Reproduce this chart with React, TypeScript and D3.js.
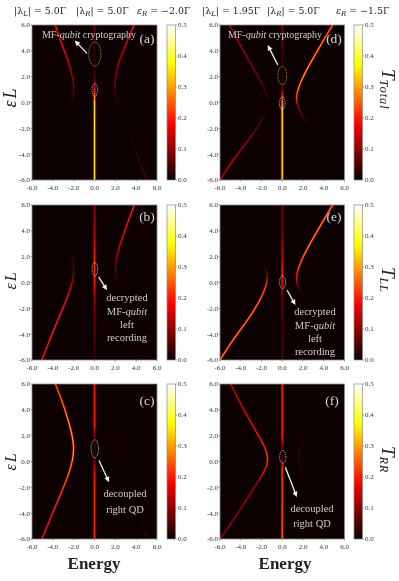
import { useEffect } from 'react';
import * as d3 from 'd3';

type Pt = [number, number, number]; // energy, epsilon_L, transmittance

const energyTicks = [-6, -4, -2, 0, 2, 4, 6];
const epsTicks = [-6, -4, -2, 0, 2, 4, 6];
const barTicks = [0, 0.1, 0.2, 0.3, 0.4, 0.5];

// panel (a)
const aLeft: Pt[] = [[-3.85, 6.2, 0.2], [-3.2, 4.6, 0.2], [-2.55, 3.3, 0.17], [-2.1, 2, 0.12], [-1.95, 1.1, 0.08], [-2.1, 0.2, 0.03], [-2.2, -0.3, 0]];
const aRight: Pt[] = [[3.9, 6.2, 0.22], [2.9, 4.3, 0.17], [2.25, 3, 0.13], [1.95, 1.75, 0.1], [1.95, 0.7, 0.05], [2.15, -0.05, 0.02], [2.3, -0.5, 0]];
const aFaint: Pt[] = [[5.1, -6.2, 0.07], [4.3, -4.5, 0.04], [3.7, -3.2, 0.02], [3.3, -2.3, 0]];
const aCenter: Pt[] = [[0, 6, 0.08], [0, 5, 0.05], [0, 4, 0.03], [0, 3, 0.03], [0, 2, 0.05], [0, 1.5, 0.1], [0, 1, 0.2], [0, 0.5, 0.25], [0, 0, 0.35], [0, -2, 0.36], [0, -6, 0.36]];
// panel (b)
const bLeft: Pt[] = [[-5.15, -6.2, 0.2], [-3.8, -3.4, 0.22], [-2.55, -1.1, 0.2], [-2, 0.3, 0.12], [-2, 1.2, 0.06], [-2.2, 2.2, 0.02], [-2.35, 2.8, 0]];
const bRight: Pt[] = [[3.9, 6.2, 0.22], [2.9, 4, 0.2], [2.25, 2.5, 0.15], [1.95, 1.2, 0.08], [2.1, 0.2, 0.03], [2.3, -0.5, 0]];
const bFaint: Pt[] = [[5.1, -6.2, 0.02], [4.3, -4.5, 0.01], [3.8, -3.3, 0]];
const bCenter: Pt[] = [[0, 6, 0.1], [0, 4, 0.12], [0, 2, 0.2], [0, 1, 0.22], [0, 0, 0.2], [0, -1, 0.12], [0, -2, 0.08], [0, -4, 0.06], [0, -6, 0.04]];
// panel (c)
const cLeft: Pt[] = [[-3.85, 6.2, 0.27], [-3, 4.45, 0.3], [-2.4, 2.9, 0.33], [-1.95, 1.35, 0.35], [-2.05, 0.1, 0.33], [-2.7, -1.5, 0.27], [-3.8, -3.55, 0.22], [-5.15, -6.2, 0.2]];
const cCenter: Pt[] = [[0, 6, 0.2], [0, 2.8, 0.2], [0, 2.2, 0.1], [0, 1.6, 0.04], [0, 1, 0.02], [0, 0.5, 0.03], [0, 0, 0.08], [0, -0.5, 0.15], [0, -1, 0.2], [0, -6, 0.21]];
const cFaint: Pt[] = [[5.1, -6.2, 0.03], [4.3, -4.5, 0.015], [3.8, -3.3, 0]];
const cFaint2: Pt[] = [[2.2, 2.4, 0], [2.05, 1.1, 0.015], [2.2, 0, 0]];
// panel (d)
const dLeftUp: Pt[] = [[-5.2, 6.2, 0.13], [-3.8, 4.05, 0.12], [-2.5, 2.25, 0.1], [-1.7, 1.1, 0.06], [-1.4, 0.3, 0.03], [-1.45, -0.1, 0]];
const dLeftLow: Pt[] = [[-6.15, -6.2, 0.16], [-4.8, -4.45, 0.16], [-3.2, -2.9, 0.12], [-2.05, -1.5, 0.06], [-1.55, -0.7, 0.02], [-1.4, -0.3, 0]];
const dRight: Pt[] = [[5, 6.2, 0.3], [3.6, 4.3, 0.33], [2.3, 2.5, 0.35], [1.55, 1.2, 0.33], [1.3, 0.3, 0.25], [1.5, -0.3, 0.12], [2, -1.2, 0.05], [2.5, -1.75, 0.01], [2.8, -2.1, 0]];
const dCenter: Pt[] = [[0, 6, 0.1], [0, 4, 0.05], [0, 2.5, 0.02], [0, 1.5, 0.03], [0, 1, 0.08], [0, 0.5, 0.2], [0, 0, 0.3], [0, -0.5, 0.36], [0, -6, 0.36]];
// panel (e)
const eLeft: Pt[] = [[-6.15, -6.2, 0.33], [-4.8, -4.45, 0.33], [-3.2, -2.8, 0.33], [-2.05, -1.25, 0.3], [-1.5, -0.2, 0.25], [-1.4, 0.55, 0.1], [-1.7, 1.3, 0.03], [-2, 1.9, 0]];
const eRight: Pt[] = [[5, 6.2, 0.35], [3.6, 4.3, 0.33], [2.3, 2.5, 0.32], [1.55, 1.2, 0.27], [1.3, 0.3, 0.2], [1.55, -0.5, 0.06], [2, -1.1, 0.01], [2.2, -1.4, 0]];
const eCenter: Pt[] = [[0, 6, 0.08], [0, 4, 0.08], [0, 2, 0.14], [0, 1, 0.2], [0, 0, 0.18], [0, -0.3, 0.15], [0, -1, 0.08], [0, -3, 0.05], [0, -6, 0.04]];
// panel (f)
const fLeft: Pt[] = [[-5.1, 6.2, 0.15], [-3.8, 4.1, 0.18], [-2.5, 2.3, 0.2], [-1.65, 1.1, 0.22], [-1.3, 0.2, 0.25], [-1.65, -0.7, 0.2], [-2.5, -1.75, 0.13], [-4.1, -3.8, 0.12], [-6.15, -6.2, 0.12]];
const fCenter: Pt[] = [[0, 6, 0.2], [0, 2, 0.2], [0, 1.3, 0.12], [0, 0.8, 0.04], [0, 0.4, 0.03], [0, 0, 0.1], [0, -0.5, 0.22], [0, -6, 0.25]];
const fFaint: Pt[] = [[2.5, 2.8, 0], [2, 1.9, 0.02], [1.4, 0.35, 0.03], [2, -1.2, 0.02], [2.5, -2, 0]];

const cmap = d3.scaleLinear<string>()
  .domain([0, 0.1825, 0.373, 0.5])
  .range(['#0b0000', '#ff0000', '#ffff00', '#ffffff'])
  .clamp(true);

// a Lorentzian-ish ridge: wide dim stroke under a thin bright one
const layers = [
  { k: 0.18, w: 2.6 },
  { k: 0.5, w: 1.7 },
  { k: 1, w: 0.9 },
];

const panels = [
  { id: 'a', x: 32, y: 25, w: 125, h: 155, barX: 167, tag: '(a)', tagX: 147, tagY: 43, ridges: [aLeft, aRight, aFaint, aCenter],
    ellipses: [[0.03, 0.97, 0.27, 0.5, 'w'], [0.03, 3.75, 0.58, 0.93, 'y']],
    arrows: [[-0.72, 3.8, -1.9, 4.8]] },
  { id: 'b', x: 32, y: 205, w: 125, h: 155, barX: 167, tag: '(b)', tagX: 147, tagY: 221, ridges: [bLeft, bRight, bFaint, bCenter],
    ellipses: [[0.03, 1.03, 0.27, 0.52, 'w']],
    arrows: [[0.4, 0.44, 1.2, -0.6]] },
  { id: 'c', x: 32, y: 384, w: 125, h: 155, barX: 167, tag: '(c)', tagX: 147, tagY: 405, ridges: [cLeft, cCenter, cFaint, cFaint2],
    ellipses: [[0.03, 0.98, 0.35, 0.7, 'w']],
    arrows: [[0.43, 0.08, 1.4, -1.6]] },
  { id: 'd', x: 220, y: 25, w: 124.5, h: 155, barX: 354, tag: '(d)', tagX: 334, tagY: 43, ridges: [dLeftUp, dLeftLow, dRight, dCenter],
    ellipses: [[0, -0.06, 0.27, 0.5, 'w'], [0, 2.08, 0.42, 0.72, 'y']],
    arrows: [[-0.43, 2.9, -1.4, 4.45]] },
  { id: 'e', x: 220, y: 205, w: 124.5, h: 155, barX: 354, tag: '(e)', tagX: 334, tagY: 221, ridges: [eLeft, eRight, eCenter],
    ellipses: [[0.03, 0.03, 0.29, 0.5, 'w']],
    arrows: [[0.47, -0.6, 1.27, -1.75]] },
  { id: 'f', x: 220, y: 384, w: 124.5, h: 155, barX: 354, tag: '(f)', tagX: 332, tagY: 405, ridges: [fLeft, fCenter, fFaint],
    ellipses: [[0.05, 0.36, 0.3, 0.5, 'w']],
    arrows: [[0.3, -0.44, 1.4, -2.75]] },
];

const notes = [
  { lines: ['MF-', 'qubit', ' cryptography'], x: 89, y: [38] },
  { lines: ['MF-', 'qubit', ' cryptography'], x: 275, y: [38] },
  { text: ['decrypted', 'MF-qubit', 'left', 'recording'], x: 127, y: [301, 315, 328, 341] },
  { text: ['decrypted', 'MF-qubit', 'left', 'recording'], x: 315, y: [315, 329, 342, 355] },
  { text: ['decoupled', 'right QD'], x: 125, y: [497, 513] },
  { text: ['decoupled', 'right QD'], x: 312, y: [512, 527] },
];

const titles = [
  { sym: 'λ', sub: 'L', val: '5.0Γ', x: 14, abs: true },
  { sym: 'λ', sub: 'R', val: '5.0Γ', x: 76, abs: true },
  { sym: 'ε', sub: 'R', val: '−2.0Γ', x: 137, abs: false },
  { sym: 'λ', sub: 'L', val: '1.95Γ', x: 202, abs: true },
  { sym: 'λ', sub: 'R', val: '5.0Γ', x: 267, abs: true },
  { sym: 'ε', sub: 'R', val: '−1.5Γ', x: 336, abs: false },
];

const sideLabels = [
  { sub: 'Total', y: 69, gap: 1 },
  { sub: 'LL', y: 267, gap: 0.5 },
  { sub: 'RR', y: 446, gap: 0.5 },
];

const epsLabels = [
  { y: 98, size: 18 },
  { y: 281, size: 16 },
  { y: 462, size: 16 },
];

const serif = "'DejaVu Serif', serif";
const tickFont = "'Liberation Serif', serif";

function Panel({ p }: { p: (typeof panels)[number] }) {
  const x = d3.scaleLinear().domain([-6, 6]).range([p.x, p.x + p.w]);
  const y = d3.scaleLinear().domain([-6, 6]).range([p.y + p.h, p.y]);
  const bar = d3.scaleLinear().domain([0, 0.5]).range([p.y + p.h, p.y]);
  const line = d3.line<Pt>().x(d => x(d[0])).y(d => y(d[1])).curve(d3.curveBasis);

  return (
    <g>
      <defs>
        <clipPath id={`clip-${p.id}`}><rect x={p.x} y={p.y} width={p.w} height={p.h} /></clipPath>
        <linearGradient id={`bar-${p.id}`} x1="0" x2="0" y1="1" y2="0">
          {d3.range(0, 0.5001, 0.025).map(v => <stop key={v} offset={v / 0.5} stopColor={cmap(v)} />)}
        </linearGradient>
        {p.ridges.map((r, i) => layers.map((l, j) => {
          const y0 = y(r[0][1]);
          const y1 = y(r[r.length - 1][1]);
          return (
            <linearGradient key={`${i}-${j}`} id={`g-${p.id}-${i}-${j}`} gradientUnits="userSpaceOnUse" x1="0" x2="0" y1={y0} y2={y1}>
              {r.map((d, k) => <stop key={k} offset={(y(d[1]) - y0) / (y1 - y0)} stopColor={cmap(d[2] * l.k)} />)}
            </linearGradient>
          );
        }))}
      </defs>

      <rect x={p.x} y={p.y} width={p.w} height={p.h} fill="#0b0000" />
      <g clipPath={`url(#clip-${p.id})`}>
        <g filter="url(#soft)" style={{ mixBlendMode: 'lighten' }}>
          {p.ridges.map((r, i) => layers.map((l, j) => (
            <path key={`${i}-${j}`} d={line(r) ?? ''} fill="none" stroke={`url(#g-${p.id}-${i}-${j})`}
              strokeWidth={l.w * (r[0][0] === 0 ? 1.35 : 1)} style={{ mixBlendMode: 'lighten' }} />
          )))}
        </g>
        {p.ellipses.map((e, i) => {
          const [cx, cy, rx, ry, kind] = e as [number, number, number, number, string];
          return (
            <ellipse key={i} cx={x(cx)} cy={y(cy)} rx={x(rx) - x(0)} ry={y(0) - y(ry)} fill="none"
              stroke={kind === 'y' ? '#8f8a0a' : '#d8d8d8'} strokeWidth={0.8}
              strokeDasharray={kind === 'y' ? '2.5,0.6' : '1.2,0.9'} />
          );
        })}
        {p.arrows.map((a, i) => {
          const x1 = x(a[0]), y1 = y(a[1]), x2 = x(a[2]), y2 = y(a[3]);
          const ang = Math.atan2(y2 - y1, x2 - x1);
          const head = d3.line()([
            [x2, y2],
            [x2 - 6 * Math.cos(ang - 0.45), y2 - 6 * Math.sin(ang - 0.45)],
            [x2 - 6 * Math.cos(ang + 0.45), y2 - 6 * Math.sin(ang + 0.45)],
          ]) + 'Z';
          return (
            <g key={i}>
              <line x1={x1} y1={y1} x2={x2 - 4 * Math.cos(ang)} y2={y2 - 4 * Math.sin(ang)} stroke="#f2f2f2" strokeWidth={1.3} />
              <path d={head} fill="#f2f2f2" />
            </g>
          );
        })}
      </g>
      <rect x={p.x} y={p.y} width={p.w} height={p.h} fill="none" stroke="#8a8a8a" strokeWidth={0.8} />
      <text x={p.tagX} y={p.tagY} textAnchor="middle" fill="#d8d8d8" fontFamily={tickFont} fontSize={13.5}>{p.tag}</text>

      {energyTicks.map(t => (
        <g key={t}>
          <line x1={x(t)} x2={x(t)} y1={p.y + p.h} y2={p.y + p.h + 1.5} stroke="#555" strokeWidth={0.5} />
          <text x={x(t)} y={p.y + p.h + 10} textAnchor="middle" fontFamily={tickFont} fontSize={7} fill="#333">{t.toFixed(1)}</text>
        </g>
      ))}
      {epsTicks.map(t => (
        <g key={t}>
          <line x1={p.x - 1.5} x2={p.x} y1={y(t)} y2={y(t)} stroke="#555" strokeWidth={0.5} />
          <text x={p.x - 2} y={y(t) + 2.4} textAnchor="end" fontFamily={tickFont} fontSize={7} fill="#333">{t.toFixed(1)}</text>
        </g>
      ))}

      <rect x={p.barX} y={p.y} width={8.5} height={p.h} fill={`url(#bar-${p.id})`} stroke="#8a8a8a" strokeWidth={0.7} />
      {barTicks.map(t => (
        <g key={t}>
          <line x1={p.barX + 8.5} x2={p.barX + 10} y1={bar(t)} y2={bar(t)} stroke="#555" strokeWidth={0.5} />
          <text x={p.barX + 11} y={bar(t) + 2.4} fontFamily={tickFont} fontSize={7} fill="#333">{t.toFixed(1)}</text>
        </g>
      ))}
    </g>
  );
}

export default function App() {
  useEffect(() => { document.body.style.margin = '0'; }, []);

  return (
    <svg width={399} height={581} style={{ display: 'block', background: '#fff' }}>
      <defs>
        <filter id="soft" x="-10%" y="-10%" width="120%" height="120%"><feGaussianBlur stdDeviation="0.4" /></filter>
        <filter id="page" filterUnits="userSpaceOnUse" x="0" y="0" width="399" height="581"><feGaussianBlur stdDeviation="0.3" /></filter>
      </defs>
      <g filter="url(#page)">
        {panels.map(p => <Panel key={p.id} p={p} />)}

        {titles.map((t, i) => (
          <text key={i} x={t.x} y={13.5} fontFamily={serif} fontSize={9.4} fill="#222">
            {t.abs ? '|' : ''}<tspan fontStyle={t.abs ? 'normal' : 'italic'}>{t.sym}</tspan>
            <tspan dy={2.5} fontSize={7} fontStyle="italic">{t.sub}</tspan>
            <tspan dy={-2.5}>{t.abs ? '| = ' : ' = '}{t.val}</tspan>
          </text>
        ))}

        {epsLabels.map(l => (
          <text key={l.y} transform={`translate(16,${l.y}) rotate(-90)`} textAnchor="middle" fontFamily={tickFont} fontStyle="italic" fontSize={l.size} fill="#222">
            ε<tspan dx={2}>L</tspan>
          </text>
        ))}

        {sideLabels.map(s => (
          <text key={s.sub} transform={`translate(382,${s.y}) rotate(90)`} fontFamily={tickFont} fontStyle="italic" fontSize={19} fill="#222">
            T<tspan dy={2} dx={0} fontSize={12.5} letterSpacing={s.gap}>{s.sub}</tspan>
          </text>
        ))}

        {notes.map((n, i) => n.lines ? (
          <text key={i} x={n.x} y={n.y[0]} textAnchor="middle" fontFamily={tickFont} fontSize={10} fill="#cfcfcf">
            {n.lines[0]}<tspan fontStyle="italic">{n.lines[1]}</tspan>{n.lines[2]}
          </text>
        ) : (
          <g key={i}>
            {n.text!.map((s, k) => {
              const q = s.indexOf('qubit');
              return (
                <text key={k} x={n.x} y={n.y[k]} textAnchor="middle" fontFamily={tickFont} fontSize={10.5} fill="#cfcfcf">
                  {q >= 0 ? <>{s.slice(0, q)}<tspan fontStyle="italic">qubit</tspan></> : s}
                </text>
              );
            })}
          </g>
        ))}

        <text x={94} y={569} textAnchor="middle" fontFamily={tickFont} fontWeight="bold" fontSize={17} fill="#222">Energy</text>
        <text x={285} y={569} textAnchor="middle" fontFamily={tickFont} fontWeight="bold" fontSize={17} fill="#222">Energy</text>
      </g>
    </svg>
  );
}
